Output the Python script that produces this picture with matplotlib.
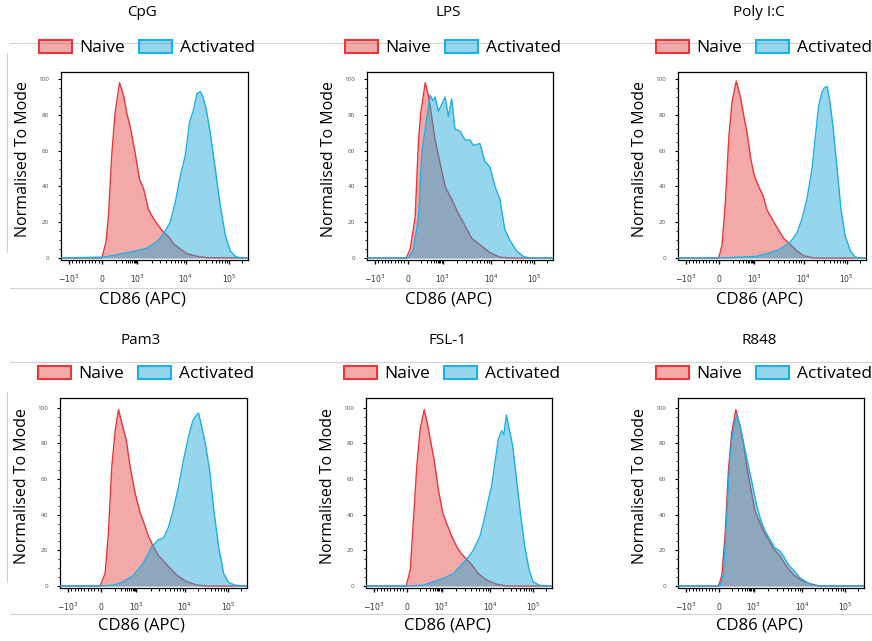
import numpy as np
import matplotlib
matplotlib.use("Agg")
import matplotlib.pyplot as plt
from matplotlib.patches import Patch
from matplotlib.lines import Line2D

plt.rcParams['font.family'] = ['Open Sans', 'DejaVu Sans']

W, H = 872, 641

# ---------------- data (x in display channels 0..1000 of the biex axis) ----------------
titles = ["CpG", "LPS", "Poly I:C", "Pam3", "FSL-1", "R848"]

cpg_naive_x = [0, 218, 241, 254, 271, 289, 313, 334, 352, 373, 396, 420, 441, 468, 495, 521, 548, 575, 602, 638, 673, 727, 780, 1000]
cpg_naive_y = [0, 0, 9, 24, 57, 81, 98, 91, 81, 72, 59, 44, 39, 27, 22, 18, 14.5, 12, 8, 5, 2.4, 1, 0.2, 0]
cpg_act_x = [0, 227, 280, 352, 405, 459, 512, 548, 584, 611, 638, 664, 688, 709, 727, 745, 759, 777, 798, 825, 852, 879, 905, 932, 959, 1000]
cpg_act_y = [0, 0.5, 1.5, 3, 4, 5.5, 9, 13.5, 20, 31, 46, 57, 76, 83, 92, 93, 90, 83, 70, 50, 29, 12.6, 4, 1, 0, 0]

lps_naive_x = [0, 211, 232, 259, 277, 289, 313, 330, 348, 366, 393, 420, 455, 491, 527, 563, 607, 661, 714, 768, 1000]
lps_naive_y = [0, 0, 5, 23, 66, 81, 98, 91, 79, 66, 53, 40, 33, 25, 18, 11, 7.5, 3, 0.5, 0, 0]
lps_act_x = [0, 223, 250, 277, 295, 318, 339, 354, 366, 384, 402, 420, 438, 455, 473, 500, 527, 554, 571, 607, 634, 661, 688, 714, 741, 768, 804, 839, 875, 1000]
lps_act_y = [0, 0, 5, 23, 59, 76, 91, 88, 90, 82, 86, 90, 79, 89, 72, 71, 66, 66, 63, 64, 54, 51, 40, 33, 16, 10, 4, 1, 0, 0]

poly_naive_x = [0, 216, 234, 252, 270, 287, 310, 332, 349, 367, 388, 406, 429, 452, 473, 500, 527, 562, 598, 633, 668, 722, 1000]
poly_naive_y = [0, 0, 7, 31, 67, 87, 99, 90, 80, 70, 55, 46, 40, 35, 27, 22, 17, 11, 7.5, 4, 1.3, 0, 0]
poly_act_x = [0, 225, 332, 420, 491, 544, 598, 633, 660, 686, 713, 730, 748, 766, 778, 793, 807, 824, 846, 867, 890, 917, 943, 970, 1000]
poly_act_y = [0, 0, 0.5, 1, 3, 5, 9, 14, 22, 33, 50, 67, 85, 93, 95, 96, 88, 74, 50, 27, 12, 4, 0.5, 0, 0]

pam3_naive_x = [0, 214, 241, 259, 277, 295, 313, 334, 354, 375, 402, 429, 450, 473, 500, 527, 554, 589, 625, 679, 732, 786, 1000]
pam3_naive_y = [0, 0, 7, 30, 67, 87, 99, 90, 82, 67, 52, 41, 35, 28, 22, 17, 14, 10, 6, 2.4, 0.6, 0, 0]
pam3_act_x = [0, 214, 286, 339, 393, 446, 491, 527, 554, 580, 607, 634, 661, 688, 711, 723, 741, 759, 777, 800, 821, 848, 875, 902, 938, 991, 1000]
pam3_act_y = [0, 0, 0.5, 2.4, 6, 13, 22, 26, 27, 33, 43, 56, 71, 84, 93, 95, 97, 89, 80, 65, 44, 22, 7, 2, 0.5, 0, 0]

fsl_naive_x = [0, 216, 238, 255, 273, 291, 313, 330, 348, 366, 389, 413, 434, 461, 488, 514, 541, 568, 604, 648, 702, 755, 1000]
fsl_naive_y = [0, 0, 9, 37, 67, 88, 99, 91, 81, 71, 54, 41, 35, 28, 22, 18, 15, 12, 7, 3.4, 1, 0, 0]
fsl_act_x = [0, 238, 309, 363, 416, 470, 505, 541, 577, 613, 639, 657, 675, 693, 711, 729, 741, 755, 770, 788, 809, 830, 854, 877, 898, 934, 988, 1000]
fsl_act_y = [0, 0, 0.5, 2.4, 4.3, 7, 11, 15, 20, 28, 39, 48, 56, 69, 82, 87, 85, 96, 88, 79, 60, 41, 22, 9, 2.4, 0.4, 0, 0]

r848_naive_x = [0, 218, 236, 254, 271, 289, 311, 330, 352, 373, 396, 414, 438, 459, 486, 513, 548, 584, 620, 655, 709, 763, 1000]
r848_naive_y = [0, 0, 6, 30, 65, 86, 99, 91, 80, 65, 52, 42, 36, 31, 26, 21, 17, 11, 6.5, 3.7, 1.3, 0, 0]
r848_act_x = [0, 227, 245, 263, 280, 298, 316, 334, 355, 379, 402, 423, 445, 468, 495, 521, 548, 566, 593, 620, 655, 691, 727, 780, 1000]
r848_act_y = [0, 0, 7.5, 41, 73, 88, 96, 90, 79, 67, 56, 45, 37, 31, 26, 21.5, 19.6, 17, 12, 9, 4.7, 2.2, 0.4, 0, 0]

naive_x = [cpg_naive_x, lps_naive_x, poly_naive_x, pam3_naive_x, fsl_naive_x, r848_naive_x]
naive_y = [cpg_naive_y, lps_naive_y, poly_naive_y, pam3_naive_y, fsl_naive_y, r848_naive_y]
act_x = [cpg_act_x, lps_act_x, poly_act_x, pam3_act_x, fsl_act_x, r848_act_x]
act_y = [cpg_act_y, lps_act_y, poly_act_y, pam3_act_y, fsl_act_y, r848_act_y]

# axis ticks
xtick_values = [-1000, 0, 1000, 10000, 100000]
xtick_labels = ['$-10^3$', '$0$', '$10^3$', '$10^4$', '$10^5$']
ytick_values = [0, 20, 40, 60, 80, 100]


def biex(v):
    # intensity -> display channel, roughly the FlowJo biex axis used here
    v = np.asarray(v, dtype=float)
    out = np.empty_like(v)
    neg = v < 0
    out[neg] = 219 + v[neg] / 1000 * 176
    low = (v >= 0) & (v <= 1000)
    out[low] = 219 + np.arcsinh(v[low] / 50) / np.arcsinh(20) * 187
    hi = v > 1000
    out[hi] = np.interp(np.log10(v[hi]), [3, 4, 5, 6], [406, 668, 898, 1128])
    return out


minor_vals = list(range(-900, 0, 100)) + list(range(100, 1000, 100)) + \
    [k * 1000 for k in range(2, 10)] + [k * 10000 for k in range(2, 10)] + [200000]

red = '#E63030'
blue = '#14A5D7'
red_edge = '#E8363A'
blue_edge = '#1BB0E6'
red_alpha = 0.41
blue_alpha = 0.45

# axes boxes in pixels: left, top, right, bottom
boxes = [(61, 72, 248, 260), (367, 72, 553, 260), (678, 72, 866, 260),
         (60, 398, 247, 588), (366, 398, 552, 588), (678, 398, 864, 588)]

fig = plt.figure(figsize=(W / 100, H / 100), dpi=100)


def fx(x):
    return x / W


def fy(y):
    return 1 - y / H


# light grey frame pieces left over from the exported panels
grey = '#D2D2D2'
for yy in [43, 288, 362, 614]:
    fig.add_artist(Line2D([fx(10), fx(872)], [fy(yy), fy(yy)], color=grey, lw=0.8))
for y0, y1 in [(53, 252), (392, 582)]:
    fig.add_artist(Line2D([fx(7), fx(7)], [fy(y0), fy(y1)], color=grey, lw=0.8))

for i in range(6):
    l, t, r, b = boxes[i]
    ax = fig.add_axes([fx(l), fy(b), (r - l) / W, (b - t) / H])

    ax.fill_between(naive_x[i], naive_y[i], 0, color=red, alpha=red_alpha, lw=0, zorder=1)
    ax.plot(naive_x[i], naive_y[i], color=red_edge, lw=1.0, zorder=2)
    ax.fill_between(act_x[i], act_y[i], 0, color=blue, alpha=blue_alpha, lw=0, zorder=3)
    ax.plot(act_x[i], act_y[i], color=blue_edge, lw=1.0, zorder=4)

    ax.set_xlim(0, 1000)
    if i < 3:
        ax.set_ylim(-1.1, 104)
    else:
        ax.set_ylim(-1.1, 105.5)

    ax.set_xticks(biex(xtick_values))
    ax.set_xticklabels(xtick_labels, fontsize=5.5, color='#333333')
    ax.set_xticks(biex(minor_vals), minor=True)
    ax.set_yticks(ytick_values)
    ax.set_yticklabels([str(v) for v in ytick_values], fontsize=4.5, color='#555555')
    ax.set_yticks(np.arange(0, 101, 5), minor=True)
    ax.tick_params(axis='x', which='major', length=3, width=1.0, pad=6)
    ax.tick_params(axis='x', which='minor', length=1.8, width=0.7)
    ax.tick_params(axis='y', which='major', length=2.5, width=0.8, pad=6)
    ax.tick_params(axis='y', which='minor', length=1.5, width=0.6)
    for s in ax.spines.values():
        s.set_linewidth(0.9)

    cx = l + 81
    top_off = 59 if i < 3 else 57
    fig.text(fx(cx), fy(t - top_off), titles[i], ha='center', va='center', fontsize=11)
    xl_off = 40 if i < 3 else 37
    fig.text(fx(cx), fy(b + xl_off), 'CD86 (APC)', ha='center', va='center', fontsize=12)
    fig.text(fx(l - 38), fy((t + b) / 2 - 7), 'Normalised To Mode', ha='center', va='center',
             rotation=90, fontsize=11.5)

    handles = [Patch(facecolor=matplotlib.colors.to_rgba(red, red_alpha), edgecolor=red_edge, lw=1.5, label='Naive'),
               Patch(facecolor=matplotlib.colors.to_rgba(blue, blue_alpha), edgecolor=blue_edge, lw=1.5, label='Activated')]
    fig.legend(handles=handles, loc='center', bbox_to_anchor=(fx(l + 86), fy(t - 24)), ncol=2,
               frameon=False, fontsize=12.5, handlelength=1.9, handleheight=0.8,
               handletextpad=0.45, columnspacing=0.8, borderpad=0, borderaxespad=0)

fig.savefig('out.png', dpi=100)
